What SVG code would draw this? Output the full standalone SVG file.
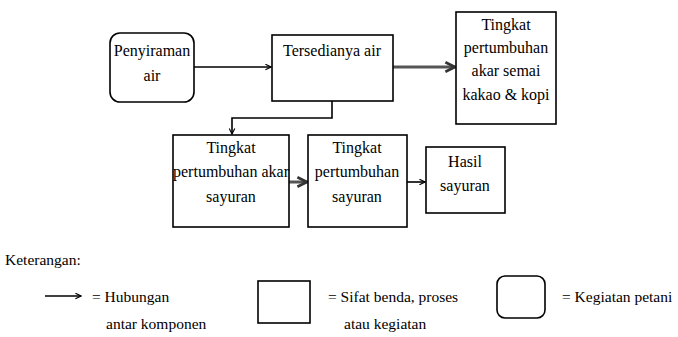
<svg xmlns="http://www.w3.org/2000/svg" width="678" height="337" viewBox="0 0 678 337">
<defs>
<style>
.box{fill:#fff;stroke:#000;stroke-width:1.6}
.t{font-family:'Liberation Serif','Times New Roman',serif;font-size:16px;fill:#000;text-anchor:middle}
.l{font-family:'Liberation Serif','Times New Roman',serif;font-size:15.5px;fill:#000}
.c{fill:none;stroke:#000;stroke-width:1.6}
.g{fill:none;stroke:#555;stroke-width:3}
</style>
<marker id="ah" viewBox="0 0 10 10" refX="9" refY="5" markerWidth="7" markerHeight="7" markerUnits="userSpaceOnUse" orient="auto">
<path d="M1,1 L9,5 L1,9" fill="none" stroke="#000" stroke-width="1.6"/>
</marker>
<marker id="ahg" viewBox="0 0 10 10" refX="9" refY="5" markerWidth="4" markerHeight="4" orient="auto">
<path d="M1,1 L9,5 L1,9" fill="none" stroke="#333" stroke-width="2.2"/>
</marker>
</defs>
<g id="connectors">
<line class="c" x1="194" y1="67" x2="271" y2="67" marker-end="url(#ah)"/>
<line class="g" x1="393" y1="67" x2="455" y2="67" marker-end="url(#ahg)"/>
<polyline class="c" points="332,101 332,118 232,118 232,134" marker-end="url(#ah)"/>
<line class="g" x1="289" y1="182" x2="307" y2="182" marker-end="url(#ahg)"/>
<line class="c" x1="407" y1="182" x2="425" y2="182" marker-end="url(#ah)"/>
</g>
<g id="penyiraman">
<rect class="box" x="110" y="33" width="84" height="69" rx="10"/>
<text class="t" x="152" y="56">Penyiraman</text>
<text class="t" x="152" y="81">air</text>
</g>
<g id="tersedianya">
<rect class="box" x="272" y="35" width="121" height="66"/>
<text class="t" x="332" y="56">Tersedianya air</text>
</g>
<g id="akar-semai">
<rect class="box" x="456" y="12" width="100" height="112"/>
<text class="t" x="506" y="30">Tingkat</text>
<text class="t" x="506" y="53">pertumbuhan</text>
<text class="t" x="506" y="76">akar semai</text>
<text class="t" x="506" y="100">kakao &amp; kopi</text>
</g>
<g id="akar-sayuran">
<rect class="box" x="173" y="135" width="116" height="92"/>
<text class="t" x="231" y="153">Tingkat</text>
<text class="t" x="231" y="177">pertumbuhan akar</text>
<text class="t" x="231" y="202">sayuran</text>
</g>
<g id="pertumbuhan-sayuran">
<rect class="box" x="308" y="135" width="99" height="92"/>
<text class="t" x="357" y="153">Tingkat</text>
<text class="t" x="357" y="177">pertumbuhan</text>
<text class="t" x="357" y="202">sayuran</text>
</g>
<g id="hasil">
<rect class="box" x="426" y="147" width="79" height="66"/>
<text class="t" x="465" y="167">Hasil</text>
<text class="t" x="465" y="191">sayuran</text>
</g>
<g id="legend">
<text class="l" x="5" y="265">Keterangan:</text>
<line class="c" x1="45" y1="296" x2="81" y2="296" marker-end="url(#ah)"/>
<text class="l" x="92" y="302">= Hubungan</text>
<text class="l" x="106" y="329">antar komponen</text>
<rect class="box" x="258" y="281" width="52" height="42"/>
<text class="l" x="328" y="302">= Sifat benda, proses</text>
<text class="l" x="344" y="329">atau kegiatan</text>
<rect class="box" x="497" y="276" width="48" height="42" rx="8"/>
<text class="l" x="562" y="302">= Kegiatan petani</text>
</g>
</svg>
